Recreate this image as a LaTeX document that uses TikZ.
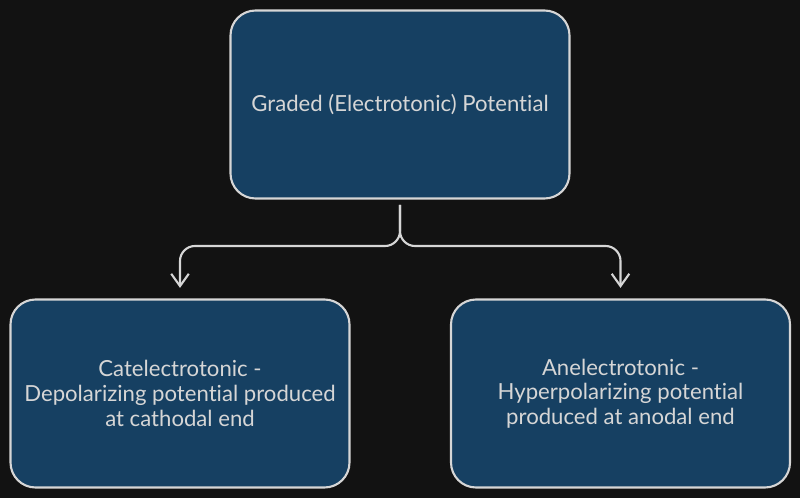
\documentclass[tikz,border=0pt]{standalone}
\usepackage{fontspec}
\setmainfont{Lato}[Ligatures={NoCommon}]
\usetikzlibrary{arrows.meta}
\definecolor{bgdark}{HTML}{121212}
\definecolor{boxblue}{HTML}{164062}
\definecolor{linegray}{HTML}{D6D6D6}
\tikzset{
  box/.style={draw=linegray,fill=boxblue,line width=1.2pt,rounded corners=0.5cm,
    minimum width=6.78cm,minimum height=3.76cm,text=linegray,align=center,
    font=\fontsize{12.6}{14}\selectfont},
  link/.style={draw=linegray,line width=1.2pt,rounded corners=0.3cm}
}
\begin{document}
\begin{tikzpicture}[>={Straight Barb[length=7pt,width=10pt]}]
\fill[bgdark] (0,0) rectangle (16,9.96);
\useasboundingbox (0,0) rectangle (16,9.96);
% boxes
\node[box] (graded) at (8.0,7.87) {Graded (Electrotonic) Potential};
\node[box] (cat) at (3.6,2.09) {Catelectrotonic -\\Depolarizing potential produced\\at cathodal end};
\node[box] (anel) at (12.41,2.09) {Anelectrotonic -\\Hyperpolarizing potential\\produced at anodal end};
% connector
\coordinate (split) at (8.0,5.04);
\draw[link,->,shorten <=3pt,shorten >=6pt] (graded.south) -- (split) -| (cat.north);
\draw[link,->,shorten <=3pt,shorten >=6pt] (graded.south) -- (split) -| (anel.north);
\end{tikzpicture}
\end{document}
